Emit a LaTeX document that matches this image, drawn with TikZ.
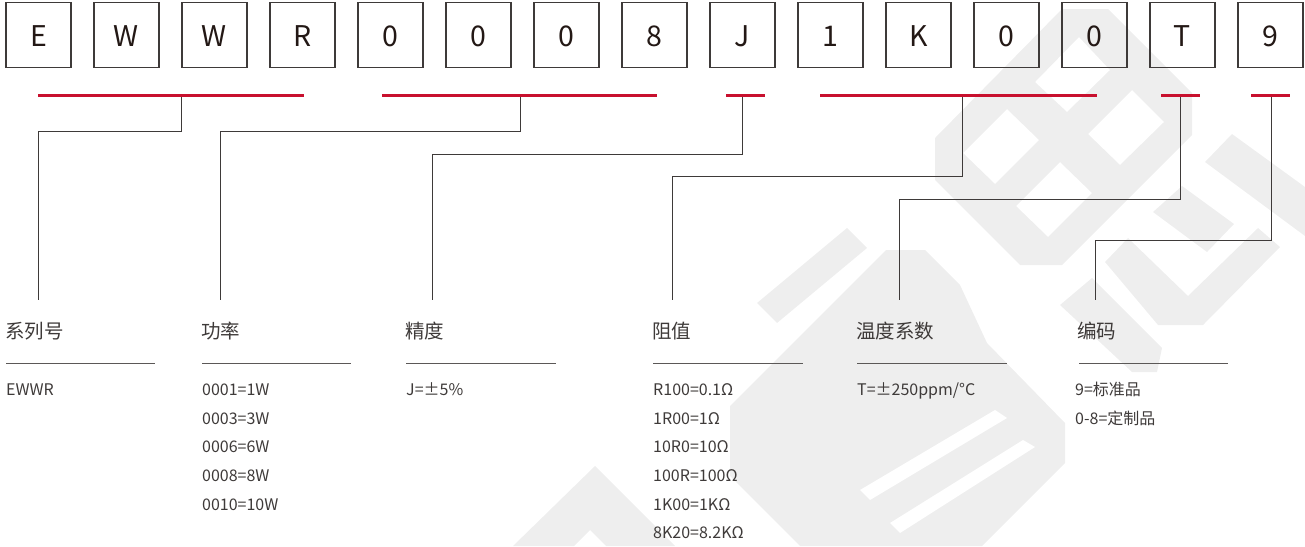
\documentclass[tikz,border=0pt]{standalone}
\usepackage{fontspec}
\setmainfont{Noto Sans CJK SC}
\definecolor{redbar}{HTML}{C8102E}
\definecolor{ink}{HTML}{3E3A39}
\definecolor{boxink}{HTML}{231815}
\definecolor{wm}{HTML}{EEEEEE}
\begin{document}
\begin{tikzpicture}[x=1pt,y=-1pt,
  box/.style={draw=ink, line width=1.2pt, minimum width=65pt, minimum height=64.5pt,
    inner sep=0pt, text height=23.6pt, text depth=0pt,
    font=\fontsize{28.5}{30}\selectfont, text=boxink},
  bar/.style={draw=redbar, line width=3pt},
  conn/.style={draw=ink, line width=1pt},
  hdr/.style={anchor=base west, inner sep=0pt, font=\fontsize{19.5}{20}\selectfont, text=ink},
  val/.style={anchor=base west, inner sep=0pt, font=\fontsize{16}{17}\selectfont, text=ink},
  rulel/.style={draw=ink!85, line width=1pt},
  wmark/.style={fill=wm}]
\useasboundingbox (0,0) rectangle (1305,546);

% ---- watermark ----
\fill[wmark, even odd rule]
  (1062,9)--(1108,9)--(1192,93)--(1192,135)--(1062,265)--(1020,265)--(935,180)--(935,138)--cycle
  (963,153)--(1007,109)--(1039,140)--(995,184)--cycle
  (1035,82)--(1079,37)--(1110,70)--(1067,112)--cycle
  (1088,134)--(1132,90)--(1164,122)--(1120,165)--cycle
  (1016,206)--(1060,162)--(1092,193)--(1048,237)--cycle;
\fill[wmark] (1205,162)--(1232,134)--(1305,187)--(1305,236)--cycle;
\fill[wmark] (1153,212)--(1182,186)--(1234,224)--(1207,252)--cycle;
\fill[wmark] (1105,262)--(1128,238)--(1188,296)--(1258,228)--(1280,247)--(1203,325)--(1158,325)--cycle;
\fill[wmark] (1060,305)--(1092,278)--(1162,348)--(1157,372)--(1132,372)--cycle;
\fill[wmark] (513,546)--(595,466)--(675,546)--(606,546)--(590,530)--(574,546)--cycle;
\fill[wmark] (757,303)--(847,228)--(867,248)--(777,323)--cycle;
\fill[wmark] (730,406)--(886,250)--(925,250)--(942,267)--(960,285)--(987,343)--(1065,423)--(1065,463)--(982,546)--(800,546)--(730,476)--cycle;
\fill[white] (860,490)--(995,410)--(1007,418)--(870,500)--cycle;
\fill[white] (890,523)--(1023,440)--(1035,447)--(900,533)--cycle;

% ---- code boxes ----
\foreach \c [count=\i from 0] in {E,W,W,R,0,0,0,8,J,1,K,0,0,T,9}
  \node[box] (b\i) at ({38.5+88*\i},34.9) {\c};

% ---- red bars ----
\coordinate (r1a) at (38,95.5);   \coordinate (r1b) at (304,95.5);
\coordinate (r2a) at (382,95.5);  \coordinate (r2b) at (657,95.5);
\coordinate (r3a) at (726,95.5);  \coordinate (r3b) at (765,95.5);
\coordinate (r4a) at (820,95.5);  \coordinate (r4b) at (1097,95.5);
\coordinate (r5a) at (1161,95.5); \coordinate (r5b) at (1200,95.5);
\coordinate (r6a) at (1251,95.5); \coordinate (r6b) at (1290,95.5);

% connector start points on bars
\coordinate (s1) at (181,95.5);
\coordinate (s2) at (520,95.5);
\coordinate (s3) at (742,95.5);
\coordinate (s4) at (962,95.5);
\coordinate (s5) at (1180,95.5);
\coordinate (s6) at (1271.5,95.5);
% connector end points above headers
\coordinate (e1) at (38.5,300);
\coordinate (e2) at (220.7,300);
\coordinate (e3) at (432,300);
\coordinate (e4) at (672,300);
\coordinate (e5) at (899,300);
\coordinate (e6) at (1095.7,300);

\draw[conn] (s1) -- (181,131.5) -| (e1);
\draw[conn] (s2) -- (520,131.5) -| (e2);
\draw[conn] (s3) -- (742,154) -| (e3);
\draw[conn] (s4) -- (962,176.7) -| (e4);
\draw[conn] (s5) -- (1180,199.3) -| (e5);
\draw[conn] (s6) -- (1271.5,240) -| (e6);

\foreach \k in {1,...,6} \draw[bar] (r\k a) -- (r\k b);

% ---- headers ----
\node[hdr] (h1) at (5,338.5) {系列号};
\node[hdr] (h2) at (201,338.5) {功率};
\node[hdr] (h3) at (405,338.5) {精度};
\node[hdr] (h4) at (652,338.5) {阻值};
\node[hdr] (h5) at (856,338.5) {温度系数};
\node[hdr] (h6) at (1077,338.5) {编码};

% ---- underlines ----
\coordinate (u1a) at (6,363);    \coordinate (u1b) at (155,363);
\coordinate (u2a) at (202,363);  \coordinate (u2b) at (351,363);
\coordinate (u3a) at (406,363);  \coordinate (u3b) at (556,363);
\coordinate (u4a) at (653,363);  \coordinate (u4b) at (803,363);
\coordinate (u5a) at (857,363);  \coordinate (u5b) at (1007,363);
\coordinate (u6a) at (1079,363); \coordinate (u6b) at (1228,363);
\foreach \k in {1,...,6} \draw[rulel] (u\k a) -- (u\k b);

% ---- values ----
\node[val] (v1a) at (6,395.5) {EWWR};

\node[val] (v2a) at (202,395.5) {0001=1W};
\node[val] (v2b) at (202,424.2) {0003=3W};
\node[val] (v2c) at (202,452.8) {0006=6W};
\node[val] (v2d) at (202,481.5) {0008=8W};
\node[val] (v2e) at (202,510.2) {0010=10W};

\node[val] (v3a) at (406,395.5) {J=±5\%};

\node[val] (v4a) at (653,395.5) {R100=0.1Ω};
\node[val] (v4b) at (653,424.2) {1R00=1Ω};
\node[val] (v4c) at (653,452.8) {10R0=10Ω};
\node[val] (v4d) at (653,481.5) {100R=100Ω};
\node[val] (v4e) at (653,510.2) {1K00=1KΩ};
\node[val] (v4f) at (653,538.8) {8K20=8.2KΩ};

\node[val] (v5a) at (857,395.5) {T=±250ppm/°C};

\node[val] (v6a) at (1075,395.5) {9=标准品};
\node[val] (v6b) at (1075,424.2) {0-8=定制品};
\end{tikzpicture}
\end{document}
